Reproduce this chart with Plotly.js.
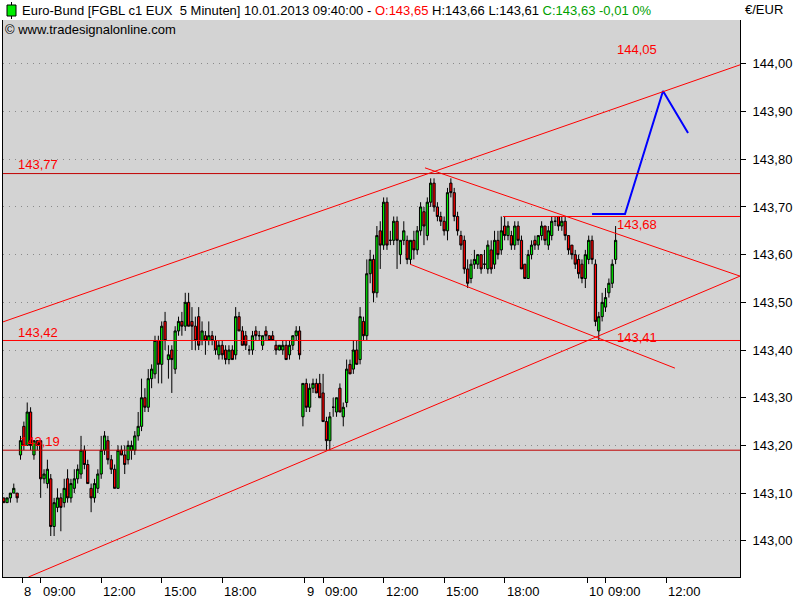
<!DOCTYPE html>
<html><head><meta charset="utf-8">
<script src="https://cdn.plot.ly/plotly-3.0.1.min.js"></script>
<style>html,body{margin:0;padding:0;background:#fff;overflow:hidden}#chart{width:800px;height:600px}</style>
</head><body><div id="chart"></div>
<script>
// 10-minute bars, first bar 07.01.2013 21:10, session 08:00-22:00
const openP = [
143.09,143.08,143.09,143.10,143.10,143.18,143.24,143.20,143.27,143.18,
143.21,143.21,143.13,143.12,143.13,143.03,143.07,143.09,143.08,143.13,
143.09,143.11,143.13,143.14,143.19,143.16,143.11,143.09,143.11,143.14,
143.19,143.21,143.17,143.15,143.11,143.19,143.18,143.17,143.19,143.19,
143.22,143.24,143.30,143.28,143.34,143.35,143.42,143.37,143.46,143.38,
143.40,143.36,143.44,143.46,143.45,143.50,143.46,143.45,143.47,143.42,
143.43,143.42,143.43,143.42,143.39,143.41,143.40,143.38,143.40,143.39,
143.47,143.44,143.43,143.40,143.40,143.44,143.43,143.41,143.44,143.43,
143.43,143.41,143.40,143.40,143.41,143.39,143.41,143.43,143.44,143.26,
143.33,143.28,143.32,143.33,143.33,143.31,143.25,143.21,143.28,143.27,
143.32,143.26,143.29,143.37,143.36,143.40,143.38,143.46,143.43,143.56,
143.59,143.52,143.65,143.62,143.71,143.63,143.63,143.67,143.60,143.63,
143.63,143.59,143.63,143.61,143.65,143.69,143.64,143.71,143.75,143.70,
143.68,143.67,143.65,143.75,143.73,143.68,143.64,143.63,143.57,143.55,
143.58,143.58,143.60,143.58,143.57,143.61,143.58,143.63,143.61,143.66,
143.64,143.64,143.62,143.66,143.63,143.58,143.55,143.60,143.63,143.62,
143.64,143.66,143.62,143.64,143.67,143.68,143.66,143.67,143.64,143.62,
143.60,143.59,143.58,143.55,143.59,143.63,143.58,143.44,143.47,143.49,
143.52,143.54,143.59];
const highP = [
143.09,143.09,143.10,143.12,143.10,143.22,143.25,143.29,143.28,143.21,
143.21,143.21,143.15,143.17,143.14,143.09,143.11,143.10,143.13,143.15,
143.13,143.15,143.16,143.22,143.20,143.17,143.12,143.13,143.15,143.22,
143.23,143.22,143.18,143.16,143.20,143.20,143.20,143.21,143.21,143.23,
143.27,143.34,143.32,143.36,143.37,143.43,143.43,143.46,143.48,143.41,
143.41,143.45,143.47,143.48,143.52,143.52,143.49,143.47,143.49,143.46,
143.44,143.46,143.44,143.43,143.42,143.42,143.41,143.41,143.41,143.49,
143.48,143.45,143.44,143.41,143.44,143.45,143.44,143.43,143.45,143.43,
143.44,143.42,143.41,143.42,143.42,143.42,143.43,143.45,143.45,143.33,
143.34,143.33,143.34,143.34,143.35,143.35,143.26,143.27,143.30,143.30,
143.33,143.29,143.38,143.38,143.42,143.42,143.49,143.47,143.59,143.61,
143.60,143.66,143.67,143.72,143.72,143.65,143.68,143.68,143.63,143.67,
143.64,143.63,143.65,143.66,143.71,143.70,143.72,143.76,143.76,143.71,
143.69,143.68,143.74,143.76,143.74,143.69,143.65,143.64,143.59,143.59,
143.61,143.60,143.60,143.61,143.63,143.63,143.65,143.65,143.68,143.68,
143.67,143.65,143.67,143.67,143.64,143.58,143.61,143.63,143.64,143.64,
143.67,143.66,143.66,143.68,143.68,143.68,143.68,143.68,143.64,143.62,
143.61,143.60,143.59,143.61,143.64,143.64,143.59,143.48,143.52,143.53,
143.55,143.59,143.66];
const lowP = [
143.08,143.08,143.08,143.10,143.08,143.17,143.19,143.20,143.19,143.17,
143.19,143.09,143.12,143.11,143.01,143.01,143.06,143.02,143.07,143.08,
143.08,143.10,143.12,143.13,143.15,143.12,143.06,143.08,143.10,143.13,
143.18,143.16,143.14,143.11,143.11,143.18,143.14,143.16,143.17,143.18,
143.21,143.23,143.27,143.27,143.32,143.34,143.33,143.33,143.40,143.34,
143.31,143.35,143.43,143.43,143.44,143.45,143.40,143.40,143.40,143.41,
143.39,143.41,143.41,143.39,143.38,143.38,143.37,143.37,143.38,143.38,
143.44,143.41,143.40,143.39,143.39,143.42,143.42,143.40,143.42,143.42,
143.42,143.39,143.40,143.39,143.38,143.38,143.40,143.42,143.38,143.24,
143.27,143.27,143.31,143.31,143.30,143.25,143.19,143.19,143.26,143.26,
143.27,143.24,143.28,143.35,143.35,143.37,143.37,143.42,143.42,143.54,
143.50,143.51,143.57,143.61,143.61,143.62,143.62,143.57,143.58,143.62,
143.58,143.58,143.59,143.60,143.64,143.62,143.63,143.70,143.69,143.67,
143.66,143.64,143.63,143.72,143.67,143.64,143.61,143.56,143.53,143.54,
143.57,143.57,143.56,143.57,143.56,143.56,143.57,143.59,143.60,143.63,
143.63,143.61,143.61,143.62,143.57,143.55,143.55,143.59,143.61,143.61,
143.63,143.62,143.61,143.63,143.66,143.65,143.65,143.63,143.60,143.59,
143.57,143.55,143.54,143.53,143.58,143.58,143.45,143.42,143.46,143.48,
143.51,143.53,143.58];
const closeP = [
143.08,143.09,143.10,143.11,143.09,143.21,143.20,143.27,143.20,143.21,
143.20,143.13,143.14,143.15,143.03,143.08,143.09,143.07,143.11,143.09,
143.12,143.13,143.15,143.19,143.16,143.12,143.09,143.12,143.14,143.19,
143.22,143.17,143.15,143.11,143.19,143.18,143.16,143.20,143.20,143.22,
143.24,143.30,143.28,143.34,143.36,143.42,143.37,143.45,143.42,143.39,
143.38,143.44,143.46,143.45,143.50,143.45,143.45,143.42,143.41,143.44,
143.42,143.43,143.42,143.40,143.41,143.39,143.38,143.40,143.38,143.47,
143.44,143.41,143.41,143.40,143.43,143.43,143.43,143.43,143.43,143.42,
143.42,143.40,143.41,143.41,143.38,143.41,143.43,143.44,143.39,143.33,
143.28,143.32,143.33,143.31,143.30,143.25,143.21,143.26,143.28,143.30,
143.27,143.28,143.36,143.35,143.40,143.37,143.47,143.43,143.56,143.59,
143.52,143.64,143.62,143.71,143.62,143.63,143.67,143.63,143.63,143.65,
143.59,143.63,143.61,143.65,143.70,143.66,143.71,143.75,143.70,143.68,
143.67,143.65,143.73,143.73,143.68,143.65,143.62,143.57,143.54,143.58,
143.59,143.60,143.57,143.58,143.62,143.57,143.63,143.60,143.65,143.64,
143.66,143.62,143.66,143.63,143.57,143.55,143.60,143.62,143.62,143.64,
143.66,143.63,143.65,143.67,143.67,143.66,143.67,143.64,143.61,143.60,
143.58,143.56,143.55,143.60,143.63,143.59,143.46,143.47,143.50,143.51,
143.54,143.58,143.63];

// x-axis tick labels (day, time)
const tickDays  = [8, 8, 8, 8, 8, 9, 9, 9, 9, 9, 10, 10, 10];
const tickTimes = ['08:05','09:00','12:00','15:00','18:00','08:05','09:00','12:00','15:00','18:00','08:05','09:00','12:00'];
const tickText  = ['8','09:00','12:00','15:00','18:00','9','09:00','12:00','15:00','18:00','10','09:00','12:00'];

// drawn levels / trend lines (session-index, price)
const levelPrices = [143.77, 143.42, 143.19];
const level68 = {from: 287.0, price: 143.68};
const upperChannel = [[-10.41, 143.459], [428.0, 143.998]];
const lowerChannel = [[4.7, 142.924], [428.0, 143.555]];
const fallUpper = [[240.6, 143.782], [428.0, 143.555]];
const fallLower = [[231.7, 143.580], [389.3, 143.362]];
const projX = [340.0, 359.6, 382.2, 397.1];
const projY = [143.685, 143.685, 143.943, 143.855];

const SESSION_OPEN = 8*60, SESSION_CLOSE = 22*60, BAR = 10, PER_DAY = (SESSION_CLOSE - SESSION_OPEN)/5;
function sessionIndex(day, minutes){ return (day-8)*PER_DAY + (minutes - SESSION_OPEN)/5; }
function hm(s){ const p = s.split(':'); return (+p[0])*60 + (+p[1]); }

const xs = [];
let d = 7, m = 21*60 + 10;
for (let i = 0; i < openP.length; i++) {
  xs.push(sessionIndex(d, m));
  m += BAR;
  if (m >= SESSION_CLOSE) { d++; m = SESSION_OPEN; }
}
const tickU = tickDays.map((dd, i) => sessionIndex(dd, hm(tickTimes[i])));

const X0 = -10.41, X1 = 428.0, Y0 = 142.9241, Y1 = 144.0920;
const PL = 3, PR = 740, PT = 20, PB = 577;
const fx = px => (px - PL)/(PR - PL);
const fy = py => (PB - py)/(PB - PT);

const RED = '#ff0000';
const FS = 13;
function seg(a, b, color, width){ return {type:'line', xref:'x', yref:'y', x0:a[0], y0:a[1], x1:b[0], y1:b[1], line:{color:color, width:width||1}}; }

const shapes = [
  seg([X0, levelPrices[0]], [X1, levelPrices[0]], '#c00000'),
  seg([X0, levelPrices[1]], [X1, levelPrices[1]], RED),
  seg([X0, levelPrices[2]], [X1, levelPrices[2]], '#c00000'),
  seg([level68.from, level68.price], [X1, level68.price], RED),
  seg(upperChannel[0], upperChannel[1], RED),
  seg(lowerChannel[0], lowerChannel[1], RED),
  seg(fallUpper[0], fallUpper[1], RED),
  seg(fallLower[0], fallLower[1], RED),
  // title icon
  {type:'line', xref:'paper', yref:'paper', x0:fx(11.5), x1:fx(11.5), y0:fy(2), y1:fy(19), line:{color:'#000', width:1}},
  {type:'rect', xref:'paper', yref:'paper', x0:fx(7), x1:fx(16), y0:fy(16), y1:fy(5), fillcolor:'#00ee00', line:{color:'#000', width:1}}
];

function lbl(text, px, py, color){
  return {xref:'paper', yref:'paper', x:fx(px), y:fy(py), xanchor:'left', yanchor:'middle', showarrow:false,
          text:text, borderpad:0, font:{color:color||'#000', size:FS}};
}
const annotations = [
  lbl('Euro-Bund [FGBL c1 EUX\u00a0 5 Minuten] 10.01.2013 09:40:00 - <span style="color:#ff0000">O:143,65</span> H:143,66 L:143,61 <span style="color:#00a000">C:143,63 -0,01 0%</span>', 21, 11),
  lbl('© www.tradesignalonline.com', 4, 30),
  lbl('€/EUR', 744, 10),
  lbl('144,05', 616, 50, RED),
  lbl('143,77', 17, 165, RED),
  lbl('143,42', 17, 332, RED),
  lbl('143,19', 19, 441, RED),
  lbl('143,68', 616, 224, RED),
  lbl('143,41', 616, 338, RED)
];
tickU.forEach((u, i) => {
  annotations.push({xref:'x', yref:'paper', x:u, y:fy(591), xanchor:'left', yanchor:'middle', xshift:1, showarrow:false,
    text:tickText[i], borderpad:0, font:{size:FS, color:'#000'}});
});

const traces = [
  {type:'candlestick', x:xs, open:openP, high:highP, low:lowP, close:closeP,
   increasing:{line:{color:'#000', width:1}, fillcolor:'#00ee00'},
   decreasing:{line:{color:'#000', width:1}, fillcolor:'#ff0000'},
   whiskerwidth:0, hoverinfo:'skip'},
  {type:'scatter', mode:'lines', x:projX, y:projY, line:{color:'#0000ff', width:2}, hoverinfo:'skip'}
];

const layout = {
  width:800, height:600,
  margin:{l:PL, r:800-PR, t:PT, b:600-PB, pad:0},
  paper_bgcolor:'#ffffff', plot_bgcolor:'#d3d3d3',
  separators:',.',
  font:{family:'"Liberation Sans", Arial, sans-serif', size:FS, color:'#000'},
  showlegend:false, hovermode:false, dragmode:false,
  boxgap:0.05,
  xaxis:{type:'linear', range:[X0, X1], showgrid:false, zeroline:false, showline:true, linecolor:'#000', linewidth:1,
         ticks:'outside', ticklen:5, tickcolor:'#000', tickmode:'array', tickvals:tickU, showticklabels:false,
         rangeslider:{visible:false}, fixedrange:true},
  yaxis:{side:'right', range:[Y0, Y1], tickmode:'linear', tick0:143, dtick:0.1, tickformat:'.2f',
         ticks:'outside', ticklen:5, tickcolor:'#000', showline:true, mirror:true, linecolor:'#000', linewidth:1,
         showgrid:true, gridcolor:'#8a8a8a', griddash:'1px,5px', zeroline:false, ticklabelstandoff:4,
         tickfont:{size:FS, color:'#000'}, fixedrange:true},
  shapes:shapes, annotations:annotations
};

Plotly.newPlot('chart', traces, layout, {staticPlot:true, displayModeBar:false});
</script>
</body></html>
